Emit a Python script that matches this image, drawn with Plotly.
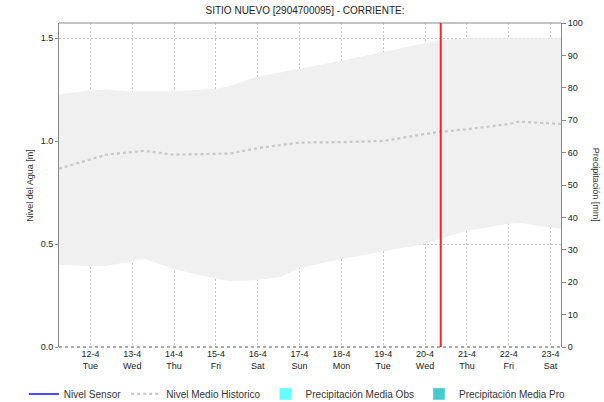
"""Nivel del agua vs. historico - sitio nuevo"""

from plotly import graph_objects as go

# ---- data ----
times = [
    "2022-04-11 06:00", "2022-04-12 00:00", "2022-04-12 09:00", "2022-04-13 00:00",
    "2022-04-13 07:00", "2022-04-14 00:00", "2022-04-15 00:00", "2022-04-15 08:00",
    "2022-04-16 00:00", "2022-04-16 13:00", "2022-04-17 00:00", "2022-04-18 00:00",
    "2022-04-19 00:00", "2022-04-20 00:00", "2022-04-20 09:00", "2022-04-21 00:00",
    "2022-04-22 00:00", "2022-04-22 06:00", "2022-04-23 06:00",
]
band_upper = [1.228, 1.246, 1.251, 1.241, 1.242, 1.243, 1.255, 1.268, 1.313, 1.333,
              1.352, 1.391, 1.435, 1.476, 1.490, 1.500, 1.500, 1.500, 1.500]
band_lower = [0.400, 0.392, 0.395, 0.415, 0.429, 0.379, 0.332, 0.319, 0.325, 0.340,
              0.384, 0.427, 0.465, 0.500, 0.525, 0.565, 0.599, 0.602, 0.574]
median_level = [0.866, 0.913, 0.934, 0.947, 0.953, 0.934, 0.937, 0.940, 0.966, 0.980,
                0.993, 0.995, 1.001, 1.035, 1.045, 1.058, 1.083, 1.095, 1.083]

# no sensor / rain values in this period, only legend entries
sensor_times, sensor_level = [None], [None]
rain_times, rain_obs, rain_pro = [None], [None], [None]

now_time = "2022-04-20 09:00"
x_range = ["2022-04-11 06:00", "2022-04-23 06:00"]

tick_vals = [f"2022-04-{d:02d}" for d in range(12, 24)]
tick_days = ["Tue", "Wed", "Thu", "Fri", "Sat", "Sun", "Mon", "Tue", "Wed", "Thu", "Fri", "Sat"]
tick_text = [f"{d}-4<br>{w}" for d, w in zip(range(12, 24), tick_days)]

FONT = "Liberation Sans, Arial, sans-serif"
GRID = "#c4c4c4"

fig = go.Figure()

# historic band (min / max)
fig.add_trace(go.Scatter(x=times, y=band_lower, mode="lines", line=dict(width=0),
                         showlegend=False, hoverinfo="skip"))
fig.add_trace(go.Scatter(x=times, y=band_upper, mode="lines", line=dict(width=0),
                         fill="tonexty", fillcolor="#f0f0f0", showlegend=False,
                         hoverinfo="skip"))

fig.add_trace(go.Scatter(x=sensor_times, y=sensor_level, mode="lines", name="Nivel Sensor",
                         line=dict(color="#1010ff", width=1.5)))
fig.add_trace(go.Scatter(x=times, y=median_level, mode="lines", name="Nivel Medio Historico",
                         line=dict(color="#c8c8c8", width=2.2, dash="dot")))
fig.add_trace(go.Bar(x=rain_times, y=rain_obs, name="Precipitación Media Obs",
                     marker_color="#66ffff", yaxis="y2"))
fig.add_trace(go.Bar(x=rain_times, y=rain_pro, name="Precipitación Media Pro",
                     marker_color="#44cccc", yaxis="y2"))

fig.update_layout(
    width=604,
    height=402,
    margin=dict(l=59, r=43, t=23, b=55, autoexpand=False),
    paper_bgcolor="white",
    plot_bgcolor="white",
    font=dict(family=FONT, size=9, color="#333333"),
    title=dict(text="SITIO NUEVO [2904700095] - CORRIENTE:", x=0.505, xanchor="center",
               y=0.973, yanchor="middle", font=dict(size=10, color="#222222")),
    showlegend=True,
    legend=dict(orientation="h", x=-0.07, xanchor="left", y=-0.1, yanchor="top",
                font=dict(size=10, color="#333333"), itemwidth=30, traceorder="normal",
                tracegroupgap=0, bgcolor="rgba(0,0,0,0)"),
    xaxis=dict(
        type="date", range=x_range, tickvals=tick_vals, ticktext=tick_text,
        showgrid=True, gridcolor=GRID, griddash="2px,2px", gridwidth=1,
        showline=False, zeroline=False, ticks="", tickfont=dict(size=9, color="#222222"),
    ),
    yaxis=dict(
        range=[0, 1.574], tickvals=[0, 0.5, 1.0, 1.5], ticktext=["0.0", "0.5", "1.0", "1.5"],
        showgrid=True, gridcolor=GRID, griddash="2px,2px", gridwidth=1, zeroline=False,
        showline=True, linecolor="#888888", linewidth=1,
        ticks="outside", ticklen=3, tickcolor="#888888", tickfont=dict(size=9, color="#222222"),
    ),
    yaxis2=dict(
        range=[0, 100], dtick=10, overlaying="y", side="right", showgrid=False,
        zeroline=False, showline=True, linecolor="#888888", linewidth=1,
        ticks="outside", ticklen=4, tickcolor="#888888", tickfont=dict(size=9, color="#222222"),
    ),
    bargap=0.2,
    shapes=[
        # frame: solid top, dotted bottom
        dict(type="line", xref="paper", yref="paper", x0=0, x1=1, y0=1, y1=1,
             line=dict(color="#888888", width=1)),
        dict(type="line", xref="paper", yref="paper", x0=0, x1=1, y0=0, y1=0,
             line=dict(color="#555555", width=1, dash="dot")),
        # current time marker
        dict(type="line", xref="x", yref="paper", x0=now_time, x1=now_time, y0=0, y1=1,
             line=dict(color="#ff2020", width=2)),
    ],
    annotations=[
        dict(text="Nivel del Agua [m]", xref="paper", yref="paper", x=-0.072, y=0.5,
             textangle=-90, showarrow=False, font=dict(size=9, color="#333333")),
        dict(text="Precipitación [mm]", xref="paper", yref="paper", x=1.084, y=0.5,
             textangle=90, showarrow=False, font=dict(size=9, color="#333333")),
    ],
)

# page body has a default 8px margin, drop it so the figure sits at the corner
fig.write_html("out.html", config={"displayModeBar": False},
               post_script="document.body.style.margin = '0';")
